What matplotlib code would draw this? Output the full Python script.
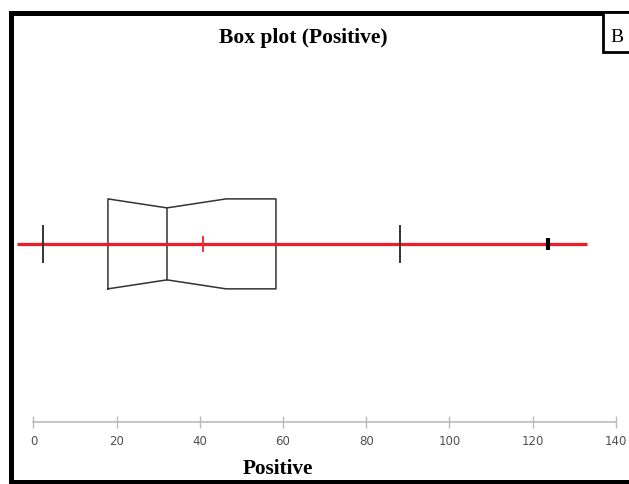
import matplotlib.pyplot as plt
from matplotlib.patches import Rectangle

# valores
q1 = 17.9
mediana = 32.1
ci_alto = 46.3
q3 = 58.3
bigote_inf = 2.3
bigote_sup = 88.1
media = 40.7
atipico = 123.7
rango = [-4.0, 133.1]
ticks = [0, 20, 40, 60, 80, 100, 120, 140]

W, H = 629, 485
fig = plt.figure(figsize=(W / 100, H / 100), dpi=100)

# ejes: el pixel 33.5 es x=0 y 615.7 es x=140
esc = (615.7 - 33.5) / 140
x0_px, x1_px = 14, 622
ax = fig.add_axes([x0_px / W, (H - 423) / H, (x1_px - x0_px) / W, (423 - 60) / H])
ax.set_xlim((x0_px - 33.5) / esc, (x1_px - 33.5) / esc)
ax.set_ylim(-3.96, 4.11)

# linea roja de rango
ax.plot(rango, [0, 0], color="#ee1c25", linewidth=2.3, solid_capstyle="butt", zorder=3)

# caja con muesca
caja_x = [q1, q1, mediana, ci_alto, q3, q3, ci_alto, mediana, q1]
caja_y = [-1, 1, 0.8, 1, 1, -1, -1, -0.8, -1]
ax.plot(caja_x, caja_y, color="#333333", linewidth=1.1, zorder=2)
ax.plot([mediana, mediana], [-0.8, 0.8], color="#333333", linewidth=1.1, zorder=2)

# bigotes
for b in (bigote_inf, bigote_sup):
    ax.plot([b, b], [-0.4, 0.4], color="#333333", linewidth=1.4, zorder=4)

# media y atipico
ax.plot([media, media], [-0.16, 0.16], color="#ee3333", linewidth=1.4, zorder=4)
ax.plot([atipico, atipico], [-0.14, 0.14], color="black", linewidth=3.0,
        solid_capstyle="butt", zorder=4)

for s in ("top", "right", "left"):
    ax.spines[s].set_visible(False)
ax.spines["bottom"].set_bounds(0, 140)
ax.spines["bottom"].set_color("#bbbbbb")
ax.spines["bottom"].set_linewidth(1.2)
ax.set_yticks([])
ax.set_xticks(ticks)
ax.tick_params(axis="x", direction="inout", length=8, width=1, color="#bbbbbb",
               labelcolor="#505050", labelsize=8.5, pad=5)

# textos
fig.text(303 / W, 1 - 43 / H, "Box plot (Positive)", ha="center", va="baseline",
         family="Liberation Serif", fontweight="bold", fontsize=15.5)
fig.text(278 / W, 1 - 474 / H, "Positive", ha="center", va="baseline",
         family="Liberation Serif", fontweight="bold", fontsize=15.3)

# marco negro
fig.add_artist(Rectangle((9 / W, 0), 5 / W, (H - 12) / H, transform=fig.transFigure,
                         color="black", lw=0))
fig.add_artist(Rectangle((9 / W, 1 - 17 / H), 1, 5 / H, transform=fig.transFigure,
                         color="black", lw=0))
fig.add_artist(Rectangle((9 / W, 0), 1, 4 / H, transform=fig.transFigure,
                         color="black", lw=0))
fig.add_artist(Rectangle((603 / W, 1 - 53 / H), 30 / W, 40 / H, transform=fig.transFigure,
                         facecolor="white", edgecolor="black", lw=2))
fig.text(617 / W, 1 - 42 / H, "B", ha="center", va="baseline",
         family="Liberation Serif", fontsize=14)

fig.savefig("out.png", dpi=100)
plt.close()
